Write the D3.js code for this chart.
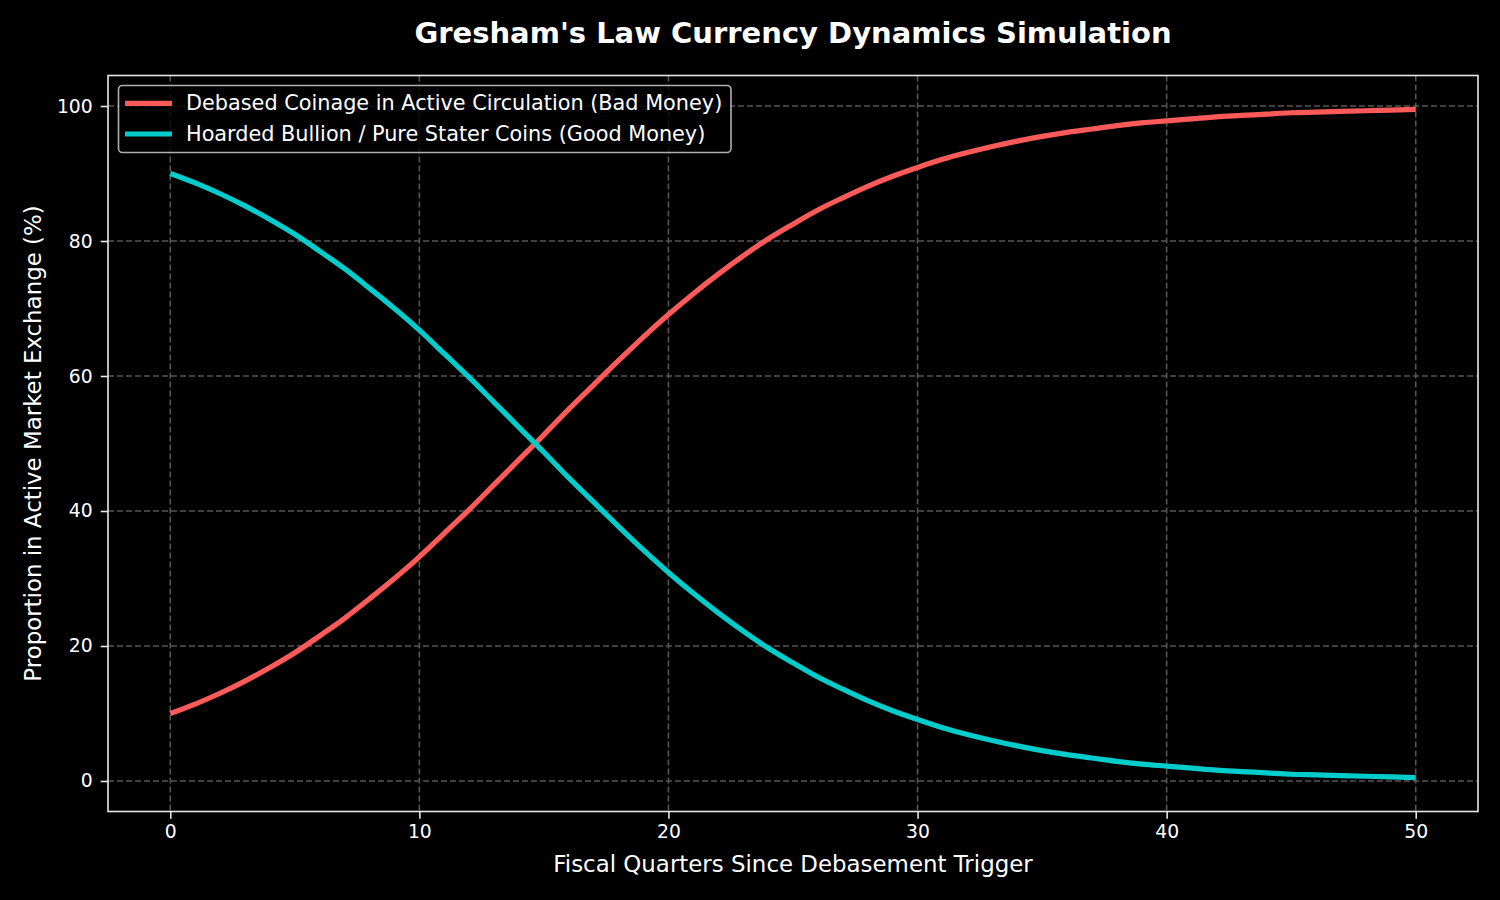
<!DOCTYPE html>
<html>
<head>
<meta charset="utf-8">
<script src="https://cdn.jsdelivr.net/npm/d3@7"></script>
<style>
  html, body { margin: 0; padding: 0; background: #000; }
  text { font-family: "DejaVu Sans", sans-serif; fill: #fff; }
</style>
</head>
<body>
<div id="chart"></div>
<script>
// values, one per fiscal quarter
var quarters = d3.range(0, 51);
var badMoney = [10.0, 11.4, 13.0, 14.8, 16.8, 19.0, 21.5, 24.1, 27.0, 30.0,
  33.2, 36.7, 40.2, 43.9, 47.6, 51.3, 55.1, 58.7, 62.3, 65.8,
  69.1, 72.2, 75.1, 77.8, 80.3, 82.5, 84.6, 86.4, 88.1, 89.6,
  90.9, 92.1, 93.1, 94.0, 94.8, 95.5, 96.1, 96.6, 97.1, 97.5,
  97.8, 98.1, 98.4, 98.6, 98.8, 99.0, 99.1, 99.2, 99.3, 99.4, 99.5];
var goodMoney = [90.0, 88.6, 87.0, 85.2, 83.2, 81.0, 78.5, 75.9, 73.0, 70.0,
  66.8, 63.3, 59.8, 56.1, 52.4, 48.7, 44.9, 41.3, 37.7, 34.2,
  30.9, 27.8, 24.9, 22.2, 19.7, 17.5, 15.4, 13.6, 11.9, 10.4,
  9.1, 7.9, 6.9, 6.0, 5.2, 4.5, 3.9, 3.4, 2.9, 2.5,
  2.2, 1.9, 1.6, 1.4, 1.2, 1.0, 0.9, 0.8, 0.7, 0.6, 0.5];
var xTicks = [0, 10, 20, 30, 40, 50];
var yTicks = [0, 20, 40, 60, 80, 100];
var seriesNames = ["Debased Coinage in Active Circulation (Bad Money)",
  "Hoarded Bullion / Pure Stater Coins (Good Money)"];
var seriesColors = ["#ff5a5a", "#00cdcb"];

var width = 1500, height = 900;
var margin = {top: 75.5, right: 22, bottom: 88.5, left: 108};

var svg = d3.select("#chart")
  .append("svg")
  .attr("width", width)
  .attr("height", height)
  .style("background", "#000");

var x = d3.scaleLinear()
  .domain([-2.5, 52.5])
  .range([margin.left, width - margin.right]);

var y = d3.scaleLinear()
  .domain([-4.52, 104.52])
  .range([height - margin.bottom, margin.top]);

// grid
var grid = svg.append("g");
grid.selectAll(".vgrid")
  .data(xTicks)
  .enter()
  .append("line")
  .attr("x1", function(d) { return x(d); })
  .attr("x2", function(d) { return x(d); })
  .attr("y1", margin.top)
  .attr("y2", height - margin.bottom)
  .attr("stroke", "#555")
  .attr("stroke-width", 1.6)
  .attr("stroke-dasharray", "6,3");
grid.selectAll(".hgrid")
  .data(yTicks)
  .enter()
  .append("line")
  .attr("x1", margin.left)
  .attr("x2", width - margin.right)
  .attr("y1", function(d) { return y(d); })
  .attr("y2", function(d) { return y(d); })
  .attr("stroke", "#555")
  .attr("stroke-width", 1.6)
  .attr("stroke-dasharray", "6,3");

// axes
var xAxis = svg.append("g")
  .attr("transform", "translate(0," + (height - margin.bottom) + ")")
  .call(d3.axisBottom(x).tickValues(xTicks).tickSize(7.3).tickPadding(6));
var yAxis = svg.append("g")
  .attr("transform", "translate(" + margin.left + ",0)")
  .call(d3.axisLeft(y).tickValues(yTicks).tickSize(7.3).tickPadding(8));
[xAxis, yAxis].forEach(function(a) {
  a.select(".domain").remove();
  a.selectAll("line").attr("stroke", "#e6e6e6").attr("stroke-width", 1.6);
  a.selectAll("text").style("font-size", "18.75px").attr("fill", "#fff");
});

// spines
svg.append("rect")
  .attr("x", margin.left)
  .attr("y", margin.top)
  .attr("width", width - margin.left - margin.right)
  .attr("height", height - margin.top - margin.bottom)
  .attr("fill", "none")
  .attr("stroke", "#e6e6e6")
  .attr("stroke-width", 1.6);

// lines
var line = d3.line()
  .x(function(d) { return x(d[0]); })
  .y(function(d) { return y(d[1]); })
  .curve(d3.curveMonotoneX);

[badMoney, goodMoney].forEach(function(vals, i) {
  svg.append("path")
    .datum(quarters.map(function(q, j) { return [q, vals[j]]; }))
    .attr("d", line)
    .attr("fill", "none")
    .attr("stroke", seriesColors[i])
    .attr("stroke-width", 5.2);
});

// title and labels
svg.append("text")
  .attr("x", (margin.left + width - margin.right) / 2)
  .attr("y", 43)
  .attr("text-anchor", "middle")
  .style("font-size", "29px")
  .style("font-weight", "bold")
  .text("Gresham's Law Currency Dynamics Simulation");

svg.append("text")
  .attr("x", (margin.left + width - margin.right) / 2)
  .attr("y", 872)
  .attr("text-anchor", "middle")
  .style("font-size", "22.9px")
  .text("Fiscal Quarters Since Debasement Trigger");

svg.append("text")
  .attr("transform", "translate(41," + ((margin.top + height - margin.bottom) / 2) + ") rotate(-90)")
  .attr("text-anchor", "middle")
  .style("font-size", "22.9px")
  .text("Proportion in Active Market Exchange (%)");

// legend
var legend = svg.append("g");
legend.append("rect")
  .attr("x", 118.5)
  .attr("y", 85.5)
  .attr("width", 612.5)
  .attr("height", 67)
  .attr("rx", 4)
  .attr("fill", "#000")
  .attr("fill-opacity", 0.8)
  .attr("stroke", "#b0b0b0")
  .attr("stroke-width", 1.6);
seriesNames.forEach(function(name, i) {
  var yy = 103.3 + i * 30.7;
  legend.append("line")
    .attr("x1", 125).attr("x2", 172)
    .attr("y1", yy).attr("y2", yy)
    .attr("stroke", seriesColors[i])
    .attr("stroke-width", 5.2);
  legend.append("text")
    .attr("x", 186)
    .attr("y", yy + 7)
    .style("font-size", "20.8px")
    .text(name);
});
</script>
</body>
</html>
